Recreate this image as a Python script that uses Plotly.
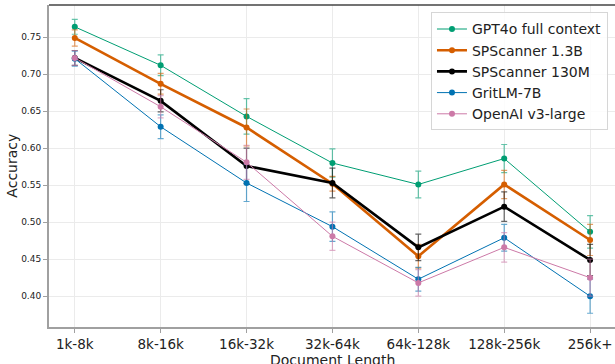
import plotly.graph_objects as go

categories = ["1k-8k", "8k-16k", "16k-32k", "32k-64k", "64k-128k", "128k-256k", "256k+"]

gpt4o = [0.764, 0.712, 0.643, 0.580, 0.551, 0.586, 0.487]
gpt4o_err = [0.010, 0.014, 0.024, 0.019, 0.018, 0.019, 0.022]

sps_13b = [0.749, 0.687, 0.628, 0.552, 0.454, 0.551, 0.476]
sps_13b_err = [0.011, 0.014, 0.025, 0.010, 0.016, 0.019, 0.021]

sps_130m = [0.722, 0.664, 0.576, 0.553, 0.466, 0.521, 0.449]
sps_130m_err = [0.010, 0.015, 0.024, 0.020, 0.018, 0.020, 0.021]

gritlm = [0.721, 0.629, 0.553, 0.494, 0.423, 0.479, 0.400]
gritlm_err = [0.010, 0.016, 0.025, 0.020, 0.016, 0.018, 0.023]

openai = [0.722, 0.656, 0.581, 0.481, 0.418, 0.466, 0.425]
openai_err = [0.010, 0.015, 0.023, 0.019, 0.018, 0.020, 0.025]

y_ticks = [0.40, 0.45, 0.50, 0.55, 0.60, 0.65, 0.70, 0.75]
y_ticktext = ["0.40", "0.45", "0.50", "0.55", "0.60", "0.65", "0.70", "0.75"]

series = [
    ("GPT4o full context", gpt4o, gpt4o_err, "#009E73", 1.0),
    ("SPScanner 1.3B", sps_13b, sps_13b_err, "#D55E00", 2.6),
    ("SPScanner 130M", sps_130m, sps_130m_err, "#000000", 2.6),
    ("GritLM-7B", gritlm, gritlm_err, "#0072B2", 1.0),
    ("OpenAI v3-large", openai, openai_err, "#CC79A7", 1.0),
]

def rgba(hexc, a):
    h = hexc.lstrip("#")
    r, g, b = int(h[0:2], 16), int(h[2:4], 16), int(h[4:6], 16)
    return f"rgba({r},{g},{b},{a})"

fig = go.Figure()
xs = list(range(len(categories)))
for name, vals, errs, col, lw in series:
    fig.add_trace(go.Scatter(
        x=xs, y=vals, name=name, mode="lines+markers",
        line=dict(color=col, width=lw),
        marker=dict(color=col, size=6),
        error_y=dict(type="data", array=errs, visible=True,
                     color=rgba(col, 0.6), thickness=1.2, width=3),
    ))

FONT = "DejaVu Sans"
fig.update_layout(
    width=615, height=364,
    margin=dict(l=49, r=0, t=5, b=37, autoexpand=False),
    plot_bgcolor="white", paper_bgcolor="white",
    font=dict(family=FONT, color="#222"),
    showlegend=True,
    legend=dict(
        x=0.9876, y=0.977, xanchor="right", yanchor="top",
        bgcolor="rgba(255,255,255,0.85)", bordercolor="#d6d6d6", borderwidth=1,
        font=dict(family=FONT, size=14, color="#222"),
        itemwidth=30, tracegroupgap=0,
    ),
    xaxis=dict(
        range=[-0.3, 6.29], tickmode="array", tickvals=xs, ticktext=categories,
        tickfont=dict(size=13.5, family=FONT, color="#222"),
        showgrid=True, gridcolor="#ebebeb", gridwidth=1,
        showline=True, linecolor="#a0a0a0", linewidth=2,
        ticks="outside", ticklen=4, tickcolor="#a0a0a0", tickwidth=1,
        zeroline=False, automargin=False,
    ),
    yaxis=dict(
        range=[0.3584, 0.7935],
        tickvals=y_ticks, ticktext=y_ticktext,
        tickfont=dict(size=9, family=FONT, color="#222"),
        showgrid=True, gridcolor="#ebebeb", gridwidth=1,
        showline=True, linecolor="#a0a0a0", linewidth=2,
        ticks="outside", ticklen=4, tickcolor="#a0a0a0", tickwidth=1,
        zeroline=False, automargin=False,
    ),
)
fig.add_shape(type="line", xref="paper", yref="paper", x0=0, x1=1, y0=1, y1=1,
              line=dict(color="#444", width=1.5))
fig.add_annotation(text="Document Length", xref="paper", yref="paper",
                   x=0.5, y=-0.072, xanchor="center", yanchor="top", showarrow=False,
                   font=dict(size=14, family=FONT, color="#222"))
fig.add_annotation(text="Accuracy", xref="paper", yref="paper",
                   x=-0.066, y=0.5, xanchor="center", yanchor="middle", showarrow=False,
                   textangle=-90, font=dict(size=14, family=FONT, color="#222"))

fig.write_html("out.html", config={"displayModeBar": False},
               post_script="document.body.style.margin='0';document.body.style.overflow='hidden';")
